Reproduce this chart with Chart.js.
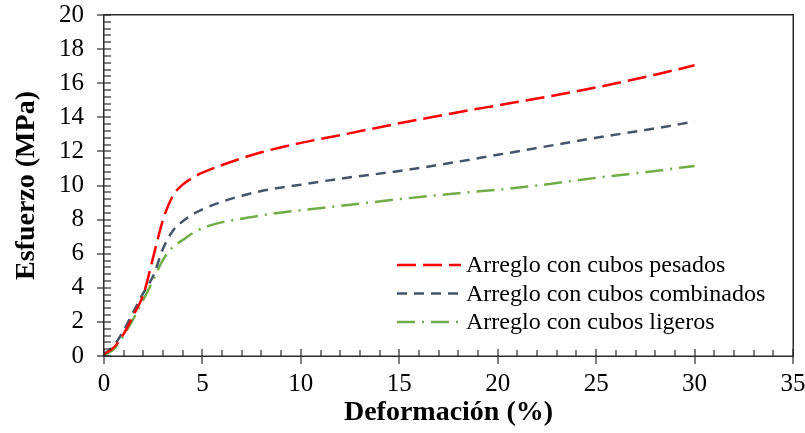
<!DOCTYPE html>
<html>
<head>
<meta charset="utf-8">
<script src="https://cdn.jsdelivr.net/npm/chart.js@4.4.1/dist/chart.umd.min.js"></script>
<style>
  html, body { margin: 0; padding: 0; background: #fff; }
  #wrap { width: 805px; height: 433px; position: relative; }
</style>
</head>
<body>
<div id="wrap"><canvas id="c" width="805" height="433"></canvas></div>
<script>
const strainX = [0, 0.5, 1, 1.5, 2, 2.5, 3, 3.5, 4, 4.5, 5, 6, 7, 8, 10, 12, 15, 18, 20, 22, 25, 28, 30];
const pesados = [0.1, 0.5, 1.3, 2.4, 3.6, 5.8, 8.0, 9.4, 10.05, 10.45, 10.75, 11.2, 11.6, 11.95, 12.5, 12.95, 13.65, 14.3, 14.7, 15.1, 15.75, 16.5, 17.05];
const combinados = [0.1, 0.6, 1.5, 2.6, 3.7, 4.7, 6.3, 7.35, 7.9, 8.3, 8.6, 9.05, 9.4, 9.68, 10.05, 10.4, 10.85, 11.4, 11.8, 12.2, 12.8, 13.35, 13.75];
const ligeros = [0.05, 0.4, 1.2, 2.2, 3.3, 4.45, 5.65, 6.4, 6.8, 7.2, 7.5, 7.85, 8.05, 8.25, 8.55, 8.8, 9.2, 9.55, 9.75, 10.0, 10.45, 10.85, 11.15];
const seriesLabels = ['Arreglo con cubos pesados', 'Arreglo con cubos combinados', 'Arreglo con cubos ligeros'];
const xTicks = [0, 5, 10, 15, 20, 25, 30, 35];
const yTicks = [0, 2, 4, 6, 8, 10, 12, 14, 16, 18, 20];
const xTitle = 'Deformación (%)';
const yTitle = 'Esfuerzo (MPa)';

const FONT = '"Liberation Serif", "Times New Roman", serif';
const AXIS = '#2b2b2b';

function pts(ys) { return strainX.map((x, i) => ({ x: x, y: ys[i] })); }

const styles = [
  { color: '#FF0000', dash: [19, 7] },
  { color: '#44546A', dash: [10, 7] },
  { color: '#70AD47', dash: [18, 7, 2, 7] }
];

const datasets = [pesados, combinados, ligeros].map((ys, i) => ({
  label: seriesLabels[i],
  data: pts(ys),
  borderColor: styles[i].color,
  borderDash: styles[i].dash,
  borderWidth: 2.5,
  pointRadius: 0,
  showLine: true,
  fill: false,
  cubicInterpolationMode: 'monotone'
}));

const frameTicks = {
  id: 'frameTicks',
  afterDraw(chart) {
    const ctx = chart.ctx;
    const a = chart.chartArea;
    const xs = chart.scales.x, ys = chart.scales.y;
    const L = Math.round(a.left), R = Math.round(a.right);
    const T = Math.round(a.top), B = Math.round(a.bottom);
    ctx.save();
    ctx.setLineDash([]);
    ctx.fillStyle = AXIS;
    // frame
    ctx.fillRect(L - 1, T - 1, R - L + 2, 1.5);
    ctx.fillRect(L - 1, B - 0.5, R - L + 2, 1.5);
    ctx.fillRect(L - 1, T - 1, 1.5, B - T + 2);
    ctx.fillRect(R - 0.5, T - 1, 1.5, B - T + 2);
    // x ticks: minor every 1, major every 5
    for (let v = xs.min; v <= xs.max + 1e-9; v += 1) {
      const px = Math.round(xs.getPixelForValue(v));
      const major = Math.abs(v % 5) < 1e-9;
      const top = B - (major ? 7 : 6);
      const bot = B + (major ? 8 : 0);
      ctx.fillRect(px - 0.6, top, 1.2, bot - top);
    }
    // y ticks: minor every 0.4, major every 2
    for (let k = 0; k <= 50; k++) {
      const py = Math.round(ys.getPixelForValue(k * 0.4));
      const major = k % 5 === 0;
      const left = L - (major ? 7 : 0);
      ctx.fillRect(left, py - 0.6, L + 7 - left, 1.2);
    }
    ctx.restore();
  }
};

const innerLegend = {
  id: 'innerLegend',
  afterDraw(chart) {
    const ctx = chart.ctx;
    ctx.save();
    ctx.font = '24px ' + FONT;
    ctx.textBaseline = 'middle';
    ctx.fillStyle = '#000';
    const rows = [265, 293.5, 322];
    chart.data.datasets.forEach((ds, i) => {
      const y = rows[i];
      ctx.strokeStyle = ds.borderColor;
      ctx.lineWidth = 2.5;
      ctx.setLineDash(ds.borderDash);
      ctx.beginPath();
      ctx.moveTo(397, y);
      ctx.lineTo(461, y);
      ctx.stroke();
      ctx.setLineDash([]);
      ctx.fillText(ds.label, 466, y + 1);
    });
    ctx.restore();
  }
};

new Chart(document.getElementById('c'), {
  type: 'scatter',
  data: { datasets: datasets },
  options: {
    responsive: false,
    animation: false,
    layout: { padding: { left: 0, right: 12, top: 15, bottom: 0 } },
    plugins: { legend: { display: false }, tooltip: { enabled: false } },
    scales: {
      x: {
        type: 'linear', min: 0, max: 35,
        afterBuildTicks(s) { s.ticks = xTicks.map(v => ({ value: v })); },
        afterFit(s) { s.height = 77; s.paddingLeft = 0; s.paddingRight = 0; },
        grid: { display: false, drawTicks: false },
        border: { display: false },
        ticks: { color: '#000', font: { family: FONT, size: 25 }, padding: 13, maxRotation: 0 },
        title: { display: true, text: xTitle, color: '#000', font: { family: FONT, size: 28, weight: 'bold' }, padding: { top: 0, bottom: 3 } }
      },
      y: {
        type: 'linear', min: 0, max: 20,
        afterBuildTicks(s) { s.ticks = yTicks.map(v => ({ value: v })); },
        afterFit(s) { s.width = 104; s.paddingTop = 0; s.paddingBottom = 0; },
        grid: { display: false, drawTicks: false },
        border: { display: false },
        ticks: { color: '#000', font: { family: FONT, size: 25 }, padding: 20 },
        title: { display: true, text: yTitle, color: '#000', font: { family: FONT, size: 28, weight: 'bold' }, padding: { top: 10, bottom: 0 } }
      }
    }
  },
  plugins: [frameTicks, innerLegend]
});
</script>
</body>
</html>
